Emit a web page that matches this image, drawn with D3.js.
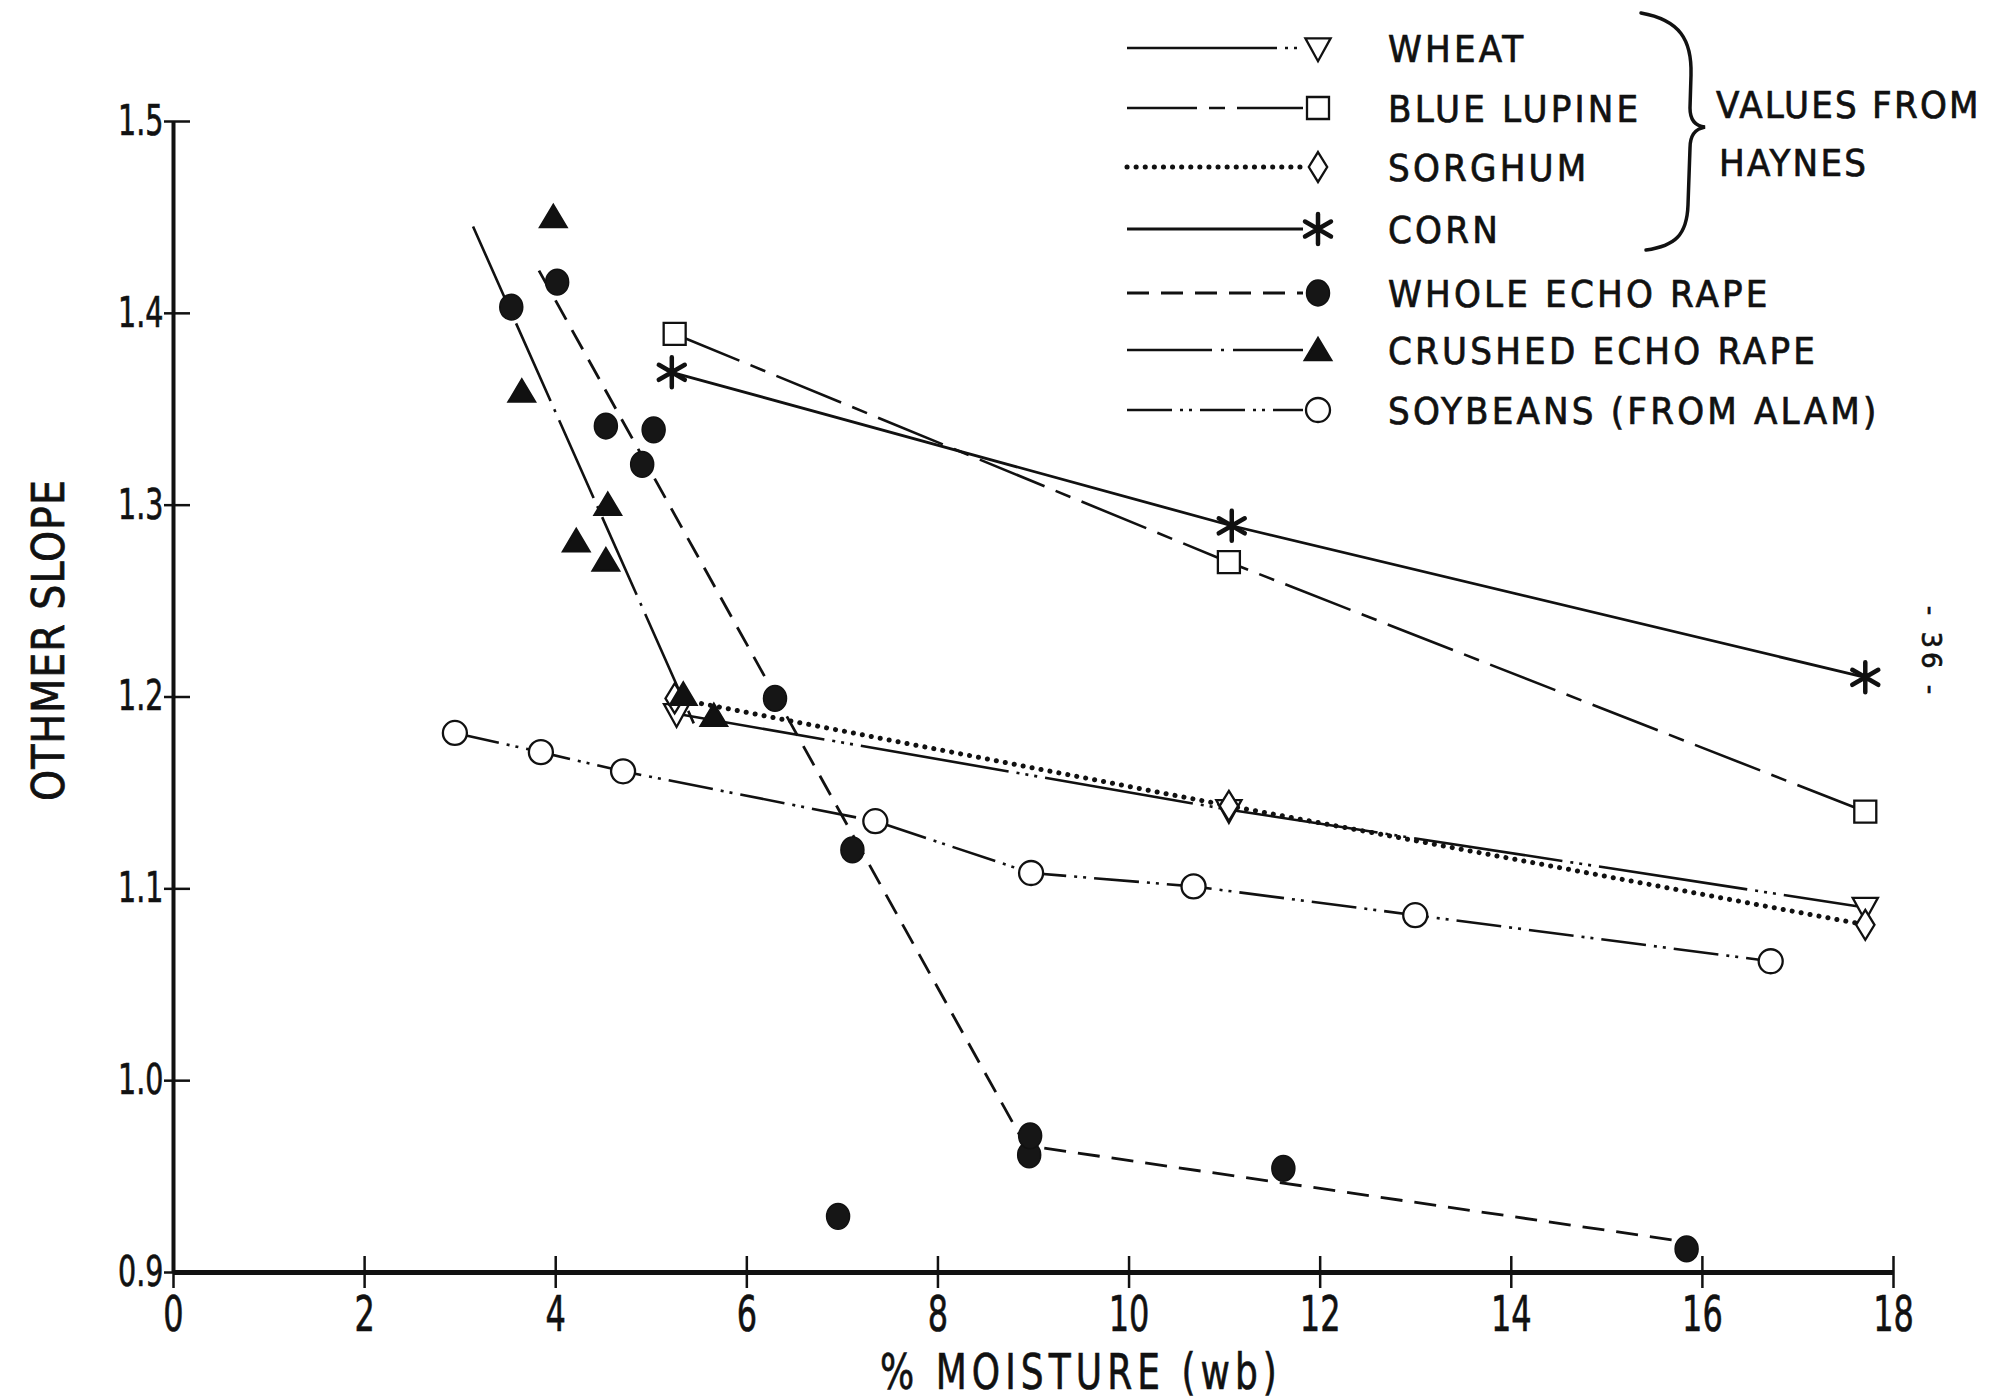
<!DOCTYPE html>
<html>
<head>
<meta charset="utf-8">
<script src="https://cdn.jsdelivr.net/npm/d3@7"></script>
<style>
	body { margin: 0; background: #fff; }
	text { font-family: "DejaVu Sans Condensed", "DejaVu Sans", sans-serif; fill: #111; stroke: #111; stroke-width: 0.7px; }
	.wide { font-family: "DejaVu Sans", "Liberation Sans", sans-serif; }
</style>
</head>
<body>
<div id="chart"></div>
<script>
//Values

	//Haynes data
	var wheatX = [5.27, 11.05, 17.71],
		wheatY = [1.191, 1.141, 1.090];
	var lupineX = [5.25, 11.05, 17.71],
		lupineY = [1.389, 1.270, 1.140];
	var sorghumX = [5.25, 11.05, 17.71],
		sorghumY = [1.199, 1.143, 1.081];
	var cornX = [5.22, 11.08, 17.71],
		cornY = [1.369, 1.289, 1.210];

	//Whole echo rape: measured points and the fitted line
	var wholeX = [3.54, 4.02, 4.53, 4.91, 5.03, 6.30, 7.11, 6.96, 8.96, 8.97, 11.62, 15.84],
		wholeY = [1.403, 1.416, 1.341, 1.321, 1.339, 1.199, 1.120, 0.929, 0.961, 0.971, 0.954, 0.912];
	var wholeLineX = [3.83, 8.92, 15.79],
		wholeLineY = [1.422, 0.966, 0.916];

	//Crushed echo rape: measured points and the fitted line
	var crushedX = [3.98, 3.65, 4.22, 4.55, 4.53, 5.34, 5.66],
		crushedY = [1.450, 1.359, 1.281, 1.300, 1.271, 1.201, 1.190];
	var crushedLineX = [3.14, 5.45],
		crushedLineY = [1.445, 1.186];

	//Soybeans (Alam)
	var soyX = [2.95, 3.85, 4.71, 7.35, 8.98, 10.68, 13.0, 16.72],
		soyY = [1.181, 1.171, 1.161, 1.135, 1.108, 1.101, 1.086, 1.062];

	var legendLabels = ["WHEAT", "BLUE  LUPINE", "SORGHUM", "CORN", "WHOLE ECHO RAPE", "CRUSHED ECHO RAPE", "SOYBEANS (FROM ALAM)"];
	var xTicks = [0, 2, 4, 6, 8, 10, 12, 14, 16, 18];
	var yTicks = [0.9, 1.0, 1.1, 1.2, 1.3, 1.4, 1.5];

//Canvas
	var W = 1995, H = 1399,
		margin = {top: 121, right: 102, bottom: 127, left: 173},
		w = W - margin.left - margin.right,
		h = H - margin.top - margin.bottom;

	var root = d3.select("#chart").append("svg")
		.attr("width", W)
		.attr("height", H)
		.style("background", "#fff");

	var svg = root.append("g")
		.attr("transform", "translate(" + margin.left + "," + margin.top + ")");

	var x = d3.scaleLinear().domain([0, 18]).range([0, w]);
	var y = d3.scaleLinear().domain([0.9, 1.5]).range([h, 0]);

//Marker shapes (size is used as a radius)
	var triDown = { draw: function(c, r) {
		c.moveTo(-r * 1.05, -r * 0.8); c.lineTo(r * 1.05, -r * 0.8); c.lineTo(0, r * 1.1); c.closePath(); } };
	var triUp = { draw: function(c, r) {
		c.moveTo(-r * 1.1, r * 0.85); c.lineTo(r * 1.1, r * 0.85); c.lineTo(0, -r * 1.0); c.closePath(); } };
	var square = { draw: function(c, r) { c.rect(-r, -r, 2 * r, 2 * r); } };
	var diamond = { draw: function(c, r) {
		c.moveTo(0, -r * 1.3); c.lineTo(r * 0.8, 0); c.lineTo(0, r * 1.3); c.lineTo(-r * 0.8, 0); c.closePath(); } };
	var circle = { draw: function(c, r) { c.moveTo(r, 0); c.arc(0, 0, r, 0, 2 * Math.PI); } };
	var asterisk = { draw: function(c, r) {
		for (var i = 0; i < 3; i++) {
			var a = Math.PI / 2 + i * Math.PI / 3;
			c.moveTo(r * Math.cos(a), r * Math.sin(a));
			c.lineTo(-r * Math.cos(a), -r * Math.sin(a));
		} } };

	function blobPath(r) {
		//slightly tall ellipse for the whole echo rape dots
		var k = 0.5523, rx = r, ry = r * 1.12;
		return "M" + rx + ",0C" + rx + "," + (ry * k) + " " + (rx * k) + "," + ry + " 0," + ry +
			"C" + (-rx * k) + "," + ry + " " + (-rx) + "," + (ry * k) + " " + (-rx) + ",0" +
			"C" + (-rx) + "," + (-ry * k) + " " + (-rx * k) + "," + (-ry) + " 0," + (-ry) +
			"C" + (rx * k) + "," + (-ry) + " " + rx + "," + (-ry * k) + " " + rx + ",0Z";
	}

	var series = [
		{name: legendLabels[0], px: wheatX, py: wheatY, lx: wheatX, ly: wheatY, dash: "150,8,3,6,3,6,3,8", lw: 2.6, sym: triDown, r: 12, fill: "#fff"},
		{name: legendLabels[1], px: lupineX, py: lupineY, lx: lupineX, ly: lupineY, dash: "70,12,16,12", lw: 2.6, sym: square, r: 11, fill: "#fff"},
		{name: legendLabels[2], px: sorghumX, py: sorghumY, lx: sorghumX, ly: sorghumY, dash: "0.1,9", lw: 5, cap: "round", sym: diamond, r: 11.5, fill: "#fff"},
		{name: legendLabels[3], px: cornX, py: cornY, lx: cornX, ly: cornY, dash: null, lw: 2.8, sym: asterisk, r: 15, fill: "none", star: true},
		{name: legendLabels[4], px: wholeX, py: wholeY, lx: wholeLineX, ly: wholeLineY, dash: "22,12", lw: 2.8, sym: null, r: 11.5, fill: "#161616"},
		{name: legendLabels[5], px: crushedX, py: crushedY, lx: crushedLineX, ly: crushedLineY, dash: "85,9,3,9", lw: 2.6, sym: triUp, r: 12, fill: "#111"},
		{name: legendLabels[6], px: soyX, py: soyY, lx: soyX, ly: soyY, dash: "45,8,3,6,3,8", lw: 2.6, sym: circle, r: 12, fill: "#fff"}
	];

	function drawMarker(g, s, cx, cy) {
		var p = g.append("path").attr("transform", "translate(" + cx + "," + cy + ")");
		if (s.sym === null) {
			p.attr("d", blobPath(s.r)).attr("fill", s.fill).attr("stroke", "#111").attr("stroke-width", 1.5);
		} else if (s.star) {
			p.attr("d", d3.symbol().type(s.sym).size(s.r)()).attr("fill", "none")
				.attr("stroke", "#111").attr("stroke-width", 4.5).attr("stroke-linecap", "round");
		} else {
			p.attr("d", d3.symbol().type(s.sym).size(s.r)()).attr("fill", s.fill)
				.attr("stroke", "#111").attr("stroke-width", 2.3).attr("stroke-linejoin", "miter");
		}
	}

//Axes
	var xAxis = svg.append("g")
		.attr("transform", "translate(0," + h + ")")
		.call(d3.axisBottom(x).tickValues(xTicks).tickSizeOuter(0).tickFormat(d3.format("d")));
	xAxis.select(".domain").attr("stroke", "#111").attr("stroke-width", 5);
	xAxis.selectAll(".tick line").attr("y1", -16).attr("y2", 16).attr("stroke", "#111").attr("stroke-width", 2.5);
	xAxis.selectAll(".tick text")
		.attr("class", "wide")
		.attr("y", 24).attr("dy", "0.71em")
		.attr("transform", "scale(0.64,1)")
		.style("font-size", "50px");

	var yAxis = svg.append("g")
		.call(d3.axisLeft(y).tickValues(yTicks).tickSizeOuter(0).tickFormat(d3.format(".1f")));
	yAxis.select(".domain").attr("stroke", "#111").attr("stroke-width", 4);
	yAxis.selectAll(".tick line").attr("x1", -9).attr("x2", 17).attr("stroke", "#111").attr("stroke-width", 2.5);
	yAxis.selectAll(".tick text")
		.attr("class", "wide")
		.attr("x", -14)
		.attr("transform", "scale(0.68,1)")
		.style("font-size", "42px");

	svg.append("text")
		.attr("transform", "translate(" + (48 - margin.left) + "," + (640 - margin.top) + ") rotate(-90)")
		.attr("text-anchor", "middle")
		.attr("dy", "0.36em")
		.style("font-size", "44px")
		.style("letter-spacing", "1px")
		.text("OTHMER SLOPE");

	svg.append("text")
		.attr("class", "wide")
		.attr("transform", "translate(" + (1081 - margin.left) + "," + (1371 - margin.top) + ") scale(0.72,1)")
		.attr("text-anchor", "middle")
		.attr("dy", "0.36em")
		.style("font-size", "50px")
		.style("letter-spacing", "7px")
		.text("% MOISTURE (wb)");

//Series lines
	var line = d3.line().x(function(d) { return x(d[0]); }).y(function(d) { return y(d[1]); });

	series.forEach(function(s) {
		svg.append("path")
			.datum(d3.zip(s.lx, s.ly))
			.attr("fill", "none")
			.attr("stroke", "#111")
			.attr("stroke-width", s.lw)
			.attr("stroke-dasharray", s.dash)
			.attr("stroke-linecap", s.cap || "butt")
			.attr("d", line);
	});

//Series markers
	series.forEach(function(s) {
		var g = svg.append("g");
		d3.zip(s.px, s.py).forEach(function(d) { drawMarker(g, s, x(d[0]), y(d[1])); });
	});

//Legend
	var legend = root.append("g").attr("class", "legend");
	var rowY = [48, 108, 167, 229, 293, 350, 410];

	series.forEach(function(s, i) {
		var ry = rowY[i];
		legend.append("path")
			.attr("d", "M1127," + ry + "H1303")
			.attr("fill", "none")
			.attr("stroke", "#111")
			.attr("stroke-width", s.lw)
			.attr("stroke-dasharray", s.dash)
			.attr("stroke-linecap", s.cap || "butt");
		drawMarker(legend, s, 1318, ry);
		legend.append("text")
			.attr("x", 1388)
			.attr("y", ry)
			.attr("dy", "0.36em")
			.style("font-size", "38px")
			.style("letter-spacing", "3.2px")
			.text(s.name);
	});

	//Brace grouping the Haynes values
	legend.append("path")
		.attr("d", "M1641,13 C1680,20 1692,40 1691,75 L1690,108 C1690,120 1695,126 1705,127 C1695,129 1690,135 1690,148 L1688,205 C1687,235 1675,246 1646,250")
		.attr("fill", "none")
		.attr("stroke", "#111")
		.attr("stroke-width", 3.5)
		.attr("stroke-linecap", "round");

	legend.append("text").attr("x", 1716).attr("y", 104).attr("dy", "0.36em")
		.style("font-size", "38px").style("letter-spacing", "2.2px").text("VALUES FROM");
	legend.append("text").attr("x", 1719).attr("y", 162).attr("dy", "0.36em")
		.style("font-size", "38px").style("letter-spacing", "2.2px").text("HAYNES");

	//Page number in the margin
	root.append("text")
		.attr("class", "wide")
		.attr("transform", "translate(1931,652) rotate(90)")
		.attr("text-anchor", "middle")
		.attr("dy", "0.36em")
		.style("font-size", "26px")
		.style("letter-spacing", "4px")
		.text("- 36 -");
</script>
</body>
</html>
